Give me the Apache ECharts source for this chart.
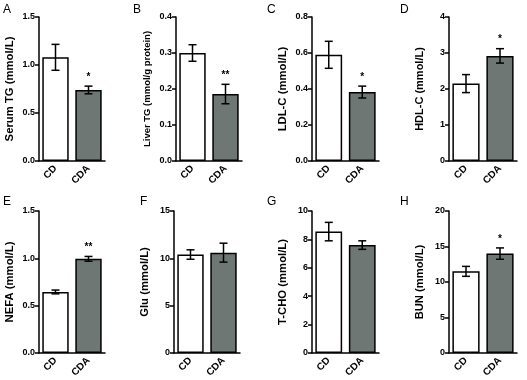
<!DOCTYPE html>
<html><head><meta charset="utf-8">
<script src="https://cdn.jsdelivr.net/npm/echarts@6/dist/echarts.min.js"></script>
<style>html,body{margin:0;padding:0;background:#fff}#c{width:527px;height:380px}</style>
</head><body><div id="c"></div>
<script>
const panelLetters = ['A','B','C','D','E','F','G','H'];
const yNames = ['Serum TG (mmol/L)','Liver TG (mmol/g protein)','LDL-C (mmol/L)','HDL-C (mmol/L)','NEFA (mmol/L)','Glu (mmol/L)','T-CHO (mmol/L)','BUN (mmol/L)'];
const categories = ['CD','CDA'];
const yMax = [1.5,0.4,0.8,4,1.5,15,10,20];
const yInterval = [0.5,0.1,0.2,1,0.5,5,2,5];
const cdMean = [1.08,0.30,0.59,2.15,0.645,10.4,8.55,11.5];
const cdErr = [0.135,0.023,0.075,0.25,0.02,0.5,0.65,0.7];
const cdaMean = [0.74,0.186,0.383,2.92,0.995,10.6,7.6,14.0];
const cdaErr = [0.04,0.027,0.033,0.2,0.025,1.0,0.3,0.8];
const signif = ['*','**','*','*','**','','','*'];

const gridLefts = [39,176,312,449,39,174,312,449];
const gridWidths = [66,66,67,68,66,66,67,68];
const gridTops = [17,17,17,17,211,211,211,211];
const gridH = [144,144,144,144,142,142,142,142];
const nameSizes = [11.3,9.5,11.3,11,11.3,11.3,11.3,11.2];
const letterPos = [[3,4],[133,4],[267,4],[400,4],[3,196],[140,196],[267,196],[400,196]];

const chart = echarts.init(document.getElementById('c'));
const grid=[],xAxis=[],yAxis=[],series=[],graphic=[];
const font = 'Liberation Sans, Arial, sans-serif';
for(let i=0;i<8;i++){
  grid.push({left:gridLefts[i],top:gridTops[i],width:gridWidths[i],height:gridH[i],containLabel:false});
  xAxis.push({type:'category',gridIndex:i,data:categories,
    axisLine:{lineStyle:{color:'#000',width:1.5}},
    axisTick:{alignWithLabel:true,length:4,lineStyle:{color:'#000',width:1.5}},
    axisLabel:{rotate:45,color:'#000',fontWeight:'bold',fontSize:10,fontFamily:font,margin:6,interval:0}});
  const dec = yInterval[i]<1?1:0;
  yAxis.push({type:'value',gridIndex:i,min:0,max:yMax[i],interval:yInterval[i],
    name:yNames[i],nameLocation:'middle',nameGap:24,nameRotate:90,
    nameTextStyle:{color:'#000',fontWeight:'bold',fontSize:nameSizes[i],fontFamily:font},
    axisLine:{show:true,lineStyle:{color:'#000',width:1.5}},
    axisTick:{show:true,length:4,lineStyle:{color:'#000',width:1.5}},
    splitLine:{show:false},
    axisLabel:{color:'#000',fontWeight:'bold',fontSize:9,fontFamily:font,margin:4,
      formatter:v=>v.toFixed(dec)}});
  series.push({type:'bar',xAxisIndex:i,yAxisIndex:i,barWidth:'80%',
    data:[{value:cdMean[i],itemStyle:{color:'#ffffff'}},{value:cdaMean[i],itemStyle:{color:'#6e7773'}}],
    itemStyle:{borderColor:'#000',borderWidth:1.5},z:2});
  series.push({type:'custom',xAxisIndex:i,yAxisIndex:i,z:5,
    data:[[0,cdMean[i],cdErr[i],''],[1,cdaMean[i],cdaErr[i],signif[i]]],
    renderItem:function(params,api){
      const x=api.value(0),m=api.value(1),e=api.value(2);
      const top=api.coord([x,m+e]),bot=api.coord([x,m-e]);
      const hw=4;
      const st={stroke:'#000',lineWidth:1.5};
      const children=[
        {type:'line',shape:{x1:top[0],y1:top[1],x2:bot[0],y2:bot[1]},style:st},
        {type:'line',shape:{x1:top[0]-hw,y1:top[1],x2:top[0]+hw,y2:top[1]},style:st},
        {type:'line',shape:{x1:bot[0]-hw,y1:bot[1],x2:bot[0]+hw,y2:bot[1]},style:st}];
      const s=api.value(3);
      if(s){children.push({type:'text',style:{text:s,x:top[0],y:top[1]-4,textAlign:'center',textVerticalAlign:'bottom',fill:'#000',font:'bold 10px '+font}});}
      return {type:'group',children};
    }});
  graphic.push({type:'text',left:letterPos[i][0],top:letterPos[i][1],style:{text:panelLetters[i],fill:'#000',font:'12px '+font}});
}
chart.setOption({animation:false,grid,xAxis,yAxis,series,graphic});
</script></body></html>
